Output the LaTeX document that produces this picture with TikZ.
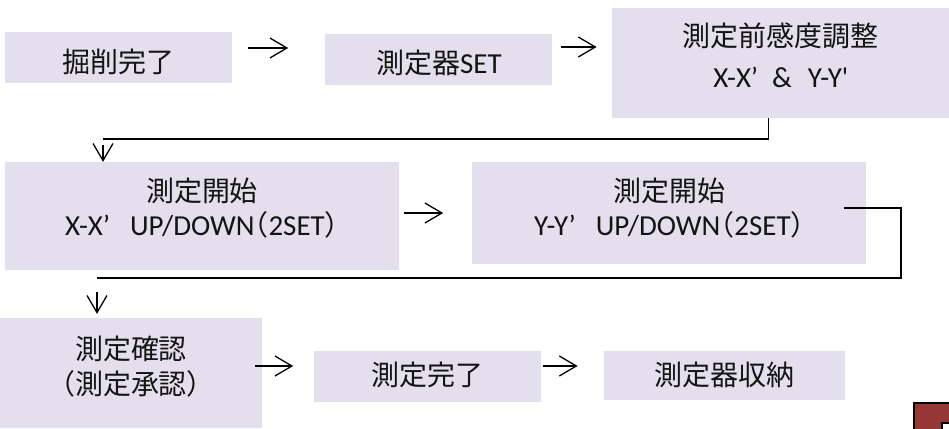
\documentclass[tikz,border=0pt]{standalone}
\usepackage{fontspec}
\setmainfont{Carlito}[Ligatures=TeXOff]
\newfontfamily\cjk{Noto Sans CJK JP}[Scale=0.965]
\newfontfamily\cjkhalt{Noto Sans CJK JP}[Scale=0.965,RawFeature=+halt]
\usetikzlibrary{positioning,arrows.meta}
\definecolor{colorbox} {RGB}{228,223,236}
\definecolor{coloricon}{RGB}{149,55 ,53 }
\definecolor{colortext}{RGB}{20 ,20 ,20 }

\begin{document}
\begin{tikzpicture}[
    x=1pt, y=1pt,
    font={\fontsize{29pt}{35pt}\selectfont},
    base/.style={fill=colorbox,text=colortext,inner sep=0pt,align=center},
    textpos/.style 2 args={text height=#1,text depth=#2},
    arr/.style={-{Straight Barb[length=17pt,width=20pt,line width=1.3pt]},line width=1.3pt},
    link/.style={line width=2pt},
]
    \useasboundingbox (0,0) rectangle (949,-428);

    % Row 1
    \node[base,textpos={29pt}{0pt},minimum width=227pt,minimum height=51pt] (dig) at (118.5,-57.5) {{\cjk 掘削完了}};
    \node[base,textpos={27pt}{0pt},minimum width=227pt,minimum height=51pt,right=93pt of dig,yshift=-2pt] (setup) {{\cjk 測定器}SET};
    \node[base,textpos={48pt}{0pt},minimum width=338pt,minimum height=110pt,right=59pt of setup,yshift=-3.5pt] (adjust)
        {{\cjk 測定前感度調整}\\[5pt]X-X’\hspace{14pt}\&\hspace{16pt}Y-Y'};

    % Row 2
    \node[base,textpos={38pt}{0pt},minimum width=394pt,minimum height=108pt] (startx) at (202,-216)
        {{\cjk 測定開始}\\[-1pt]X-X’\hspace{20pt}UP/DOWN{\cjkhalt （}2SET{\cjkhalt ）}};
    \node[base,textpos={44pt}{0pt},minimum width=394pt,minimum height=102pt,right=73pt of startx,yshift=3pt] (starty)
        {{\cjk 測定開始}\\[-1pt]Y-Y’\hspace{20pt}UP/DOWN{\cjkhalt （}2SET{\cjkhalt ）}};

    % Row 3
    \node[base,textpos={42pt}{0pt},minimum width=262pt,minimum height=110pt] (check) at (131,-373)
        {{\cjk 測定確認}\\{\cjk （測定承認）}};
    \node[base,textpos={17pt}{0pt},minimum width=227pt,minimum height=51pt,right=52pt of check,yshift=-3.5pt] (finish) {{\cjk 測定完了}};
    \node[base,textpos={19pt}{0pt},minimum width=241pt,minimum height=49pt,right=62pt of finish,yshift=1pt] (store) {{\cjk 測定器収納}};

    % Turning points
    \coordinate (turnA)   at (103,-139);
    \coordinate (turnB)   at (97,-278);
    \coordinate (cornerB) at (901,-278);

    % Arrows
    \draw[arr,shorten <=16pt,shorten >=37pt] ([yshift=9.5pt]dig.east) -- ([yshift=9.5pt]dig.east -| setup.west);
    \draw[arr,shorten <=8pt,shorten >=15pt] ([yshift=12.5pt]setup.east) -- ([yshift=12.5pt]setup.east -| adjust.west);
    \draw[arr,shorten <=5pt,shorten >=29pt] ([yshift=3pt]startx.east) -- ([yshift=3pt]startx.east -| starty.west);
    \draw[arr,shorten >=21pt] ([shift={(-7pt,7pt)}]check.east) -- ([yshift=7pt]check.east -| finish.west);
    \draw[arr,shorten <=1pt,shorten >=26pt] ([yshift=10.5pt]finish.east) -- ([yshift=10.5pt]finish.east -| store.west);

    % Row changes
    \draw[line width=1.2pt] ([xshift=-12pt]adjust.south) |- (turnA);
    \draw[arr] ([yshift=-6pt]turnA) -- (turnA |- startx.north);
    \draw[link] ([shift={(-23pt,5pt)}]starty.east) -| (cornerB) -- (turnB);
    \draw[arr,shorten >=4pt] ([yshift=-14pt]turnB) -- (turnB |- check.north);

    % Corner icon
    \draw[fill=coloricon,line width=1.5pt] (914,-403) rectangle (960,-440);
    \draw[fill=white,line width=1.5pt] (942,-423) rectangle (960,-440);
\end{tikzpicture}
\end{document}
